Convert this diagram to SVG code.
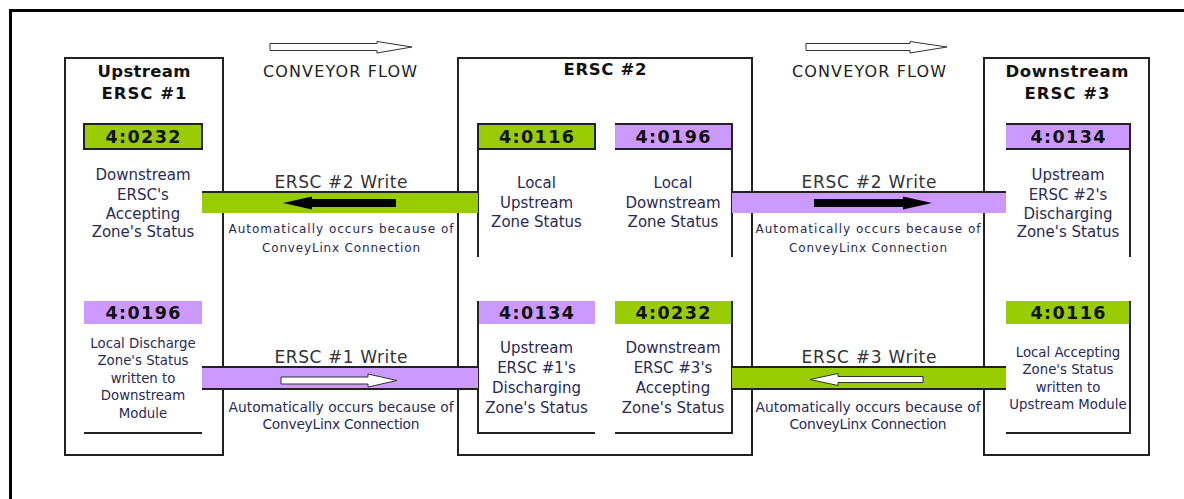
<svg xmlns="http://www.w3.org/2000/svg" width="1184" height="499" viewBox="0 0 1184 499">
<style>
text{font-family:"DejaVu Sans","Verdana","Liberation Sans",sans-serif;text-anchor:middle}
.title{font-weight:bold;font-size:16.5px;fill:#111}
.flow{font-size:16px;fill:#222}
.lbl{font-weight:bold;font-size:17.5px;fill:#111}
.body{font-size:15px;fill:#2a2a55}
.bodys{font-size:13.3px;fill:#2a2a55}
.wr{font-size:17px;fill:#333}
.sm{font-size:12px;fill:#2a2a55}
.sm2{font-size:13.8px;fill:#2a2a55}
.box{fill:#fff;stroke:#222;stroke-width:2}
.ln{stroke:#222;stroke-width:2;fill:none}
.g{fill:#99CC00}
.p{fill:#CC99FF}
.hollow{fill:#fff;stroke:#333;stroke-width:1}
</style>
<rect x="10.5" y="10.5" width="1300" height="700" fill="#fff" stroke="#000" stroke-width="3"/>

<g id="conveyor-flow">
<path class="hollow" d="M270,43.5 H377 V41.5 L412,47 L377,53 V50.5 H270 Z"/>
<text class="flow" x="340" y="77" textLength="154" lengthAdjust="spacing">CONVEYOR FLOW</text>
<path class="hollow" d="M806,43.5 H910 V41.5 L947,47 L910,53 V50.5 H806 Z"/>
<text class="flow" x="869" y="77" textLength="154" lengthAdjust="spacing">CONVEYOR FLOW</text>
</g>

<g id="ersc1">
<rect class="box" x="65" y="58" width="158" height="397"/>
<text class="title" x="144" y="77" textLength="93" lengthAdjust="spacing">Upstream</text>
<text class="title" x="144" y="99" textLength="85" lengthAdjust="spacing">ERSC #1</text>
<rect class="g" x="84" y="124" width="118" height="25" stroke="#222" stroke-width="2"/>
<text class="lbl" x="143" y="143" textLength="75" lengthAdjust="spacing">4:0232</text>
<text class="body" x="143" y="180">Downstream</text>
<text class="body" x="143" y="199.5">ERSC's</text>
<text class="body" x="143" y="218.5">Accepting</text>
<text class="body" x="143" y="237">Zone's Status</text>
<rect class="p" x="84" y="301" width="118" height="23"/>
<text class="lbl" x="143" y="318.5" textLength="75" lengthAdjust="spacing">4:0196</text>
<text class="bodys" x="143" y="347.5">Local Discharge</text>
<text class="bodys" x="143" y="365">Zone's Status</text>
<text class="bodys" x="143" y="382.5">written to</text>
<text class="bodys" x="143" y="400">Downstream</text>
<text class="bodys" x="143" y="417.5">Module</text>
<line class="ln" x1="84" y1="433" x2="202" y2="433"/>
</g>

<g id="ersc2">
<rect class="box" x="458" y="58" width="294" height="397"/>
<text class="title" x="605" y="75" textLength="83" lengthAdjust="spacing">ERSC #2</text>
<rect class="g" x="478" y="124" width="117" height="25" stroke="#222" stroke-width="2"/>
<text class="lbl" x="536.5" y="143" textLength="75" lengthAdjust="spacing">4:0116</text>
<line class="ln" x1="478" y1="149" x2="478" y2="257"/>
<text class="body" x="536.5" y="188">Local</text>
<text class="body" x="536.5" y="207.5">Upstream</text>
<text class="body" x="536.5" y="227">Zone Status</text>
<rect class="p" x="615" y="124" width="117" height="25"/>
<path class="ln" d="M615,124 H732 V149 H615 M732,149 V257"/>
<text class="lbl" x="673" y="143" textLength="75" lengthAdjust="spacing">4:0196</text>
<text class="body" x="673" y="188">Local</text>
<text class="body" x="673" y="207.5">Downstream</text>
<text class="body" x="673" y="227">Zone Status</text>
<rect class="p" x="478" y="301" width="117" height="23"/>
<path class="ln" d="M478,301 V433 H595"/>
<text class="lbl" x="536.5" y="318.5" textLength="75" lengthAdjust="spacing">4:0134</text>
<text class="body" x="536.5" y="353">Upstream</text>
<text class="body" x="536.5" y="373">ERSC #1's</text>
<text class="body" x="536.5" y="393">Discharging</text>
<text class="body" x="536.5" y="413">Zone's Status</text>
<rect class="g" x="615" y="301" width="117" height="23"/>
<path class="ln" d="M732,301 V433 H615"/>
<text class="lbl" x="673" y="318.5" textLength="75" lengthAdjust="spacing">4:0232</text>
<text class="body" x="673" y="353">Downstream</text>
<text class="body" x="673" y="373">ERSC #3's</text>
<text class="body" x="673" y="393">Accepting</text>
<text class="body" x="673" y="413">Zone's Status</text>
</g>

<g id="ersc3">
<rect class="box" x="984" y="58" width="165" height="397"/>
<text class="title" x="1067" y="77" textLength="123" lengthAdjust="spacing">Downstream</text>
<text class="title" x="1067" y="99" textLength="85" lengthAdjust="spacing">ERSC #3</text>
<rect class="p" x="1006" y="124" width="124" height="25"/>
<path class="ln" d="M1006,124 H1130 V149 H1006 M1130,149 V257"/>
<text class="lbl" x="1068" y="143" textLength="75" lengthAdjust="spacing">4:0134</text>
<text class="body" x="1068" y="180">Upstream</text>
<text class="body" x="1068" y="199.5">ERSC #2's</text>
<text class="body" x="1068" y="218.5">Discharging</text>
<text class="body" x="1068" y="237">Zone's Status</text>
<rect class="g" x="1006" y="301" width="124" height="23"/>
<path class="ln" d="M1130,301 V433 H1006"/>
<text class="lbl" x="1068" y="318.5" textLength="75" lengthAdjust="spacing">4:0116</text>
<text class="bodys" x="1068" y="356.5">Local Accepting</text>
<text class="bodys" x="1068" y="374">Zone's Status</text>
<text class="bodys" x="1068" y="391.5">written to</text>
<text class="bodys" x="1068" y="409">Upstream Module</text>
</g>

<g id="connectors">
<g id="write-2-upstream">
<rect class="g" x="202" y="192" width="276" height="21"/>
<line class="ln" x1="202" y1="192" x2="478" y2="192"/>
<path d="M396,199 H312 V196.5 L283,203 L312,209.5 V207 H396 Z" fill="#000"/>
<text class="wr" x="341" y="188" textLength="133" lengthAdjust="spacing">ERSC #2 Write</text>
<text class="sm" x="341" y="233" textLength="225" lengthAdjust="spacing">Automatically occurs because of</text>
<text class="sm" x="341" y="252" textLength="158" lengthAdjust="spacing">ConveyLinx Connection</text>
</g>
<g id="write-2-downstream">
<rect class="p" x="732" y="192" width="274" height="21"/>
<line class="ln" x1="732" y1="192" x2="1006" y2="192"/>
<path d="M814,199 H903 V196.5 L932,203 L903,209.5 V207 H814 Z" fill="#000"/>
<text class="wr" x="869" y="188" textLength="135" lengthAdjust="spacing">ERSC #2 Write</text>
<text class="sm" x="868" y="233" textLength="225" lengthAdjust="spacing">Automatically occurs because of</text>
<text class="sm" x="868" y="252" textLength="158" lengthAdjust="spacing">ConveyLinx Connection</text>
</g>
<g id="write-1">
<rect class="p" x="202" y="367" width="276" height="22"/>
<path class="ln" d="M202,367 H478 M202,389 H478"/>
<path class="hollow" d="M281,377 H368 V374 L397,380.5 L368,387 V384 H281 Z"/>
<text class="wr" x="341" y="363" textLength="133" lengthAdjust="spacing">ERSC #1 Write</text>
<text class="sm2" x="341" y="411.5" textLength="225" lengthAdjust="spacing">Automatically occurs because of</text>
<text class="sm2" x="341" y="429" textLength="157" lengthAdjust="spacing">ConveyLinx Connection</text>
</g>
<g id="write-3">
<rect class="g" x="732" y="367" width="274" height="22"/>
<path class="ln" d="M732,367 H1006 M732,389 H1006"/>
<path class="hollow" d="M923,376.5 H838 V373.5 L810,379.5 L838,385.5 V382.5 H923 Z"/>
<text class="wr" x="869" y="363" textLength="135" lengthAdjust="spacing">ERSC #3 Write</text>
<text class="sm2" x="868" y="411.5" textLength="225" lengthAdjust="spacing">Automatically occurs because of</text>
<text class="sm2" x="868" y="429" textLength="157" lengthAdjust="spacing">ConveyLinx Connection</text>
</g>
</g>
</svg>
